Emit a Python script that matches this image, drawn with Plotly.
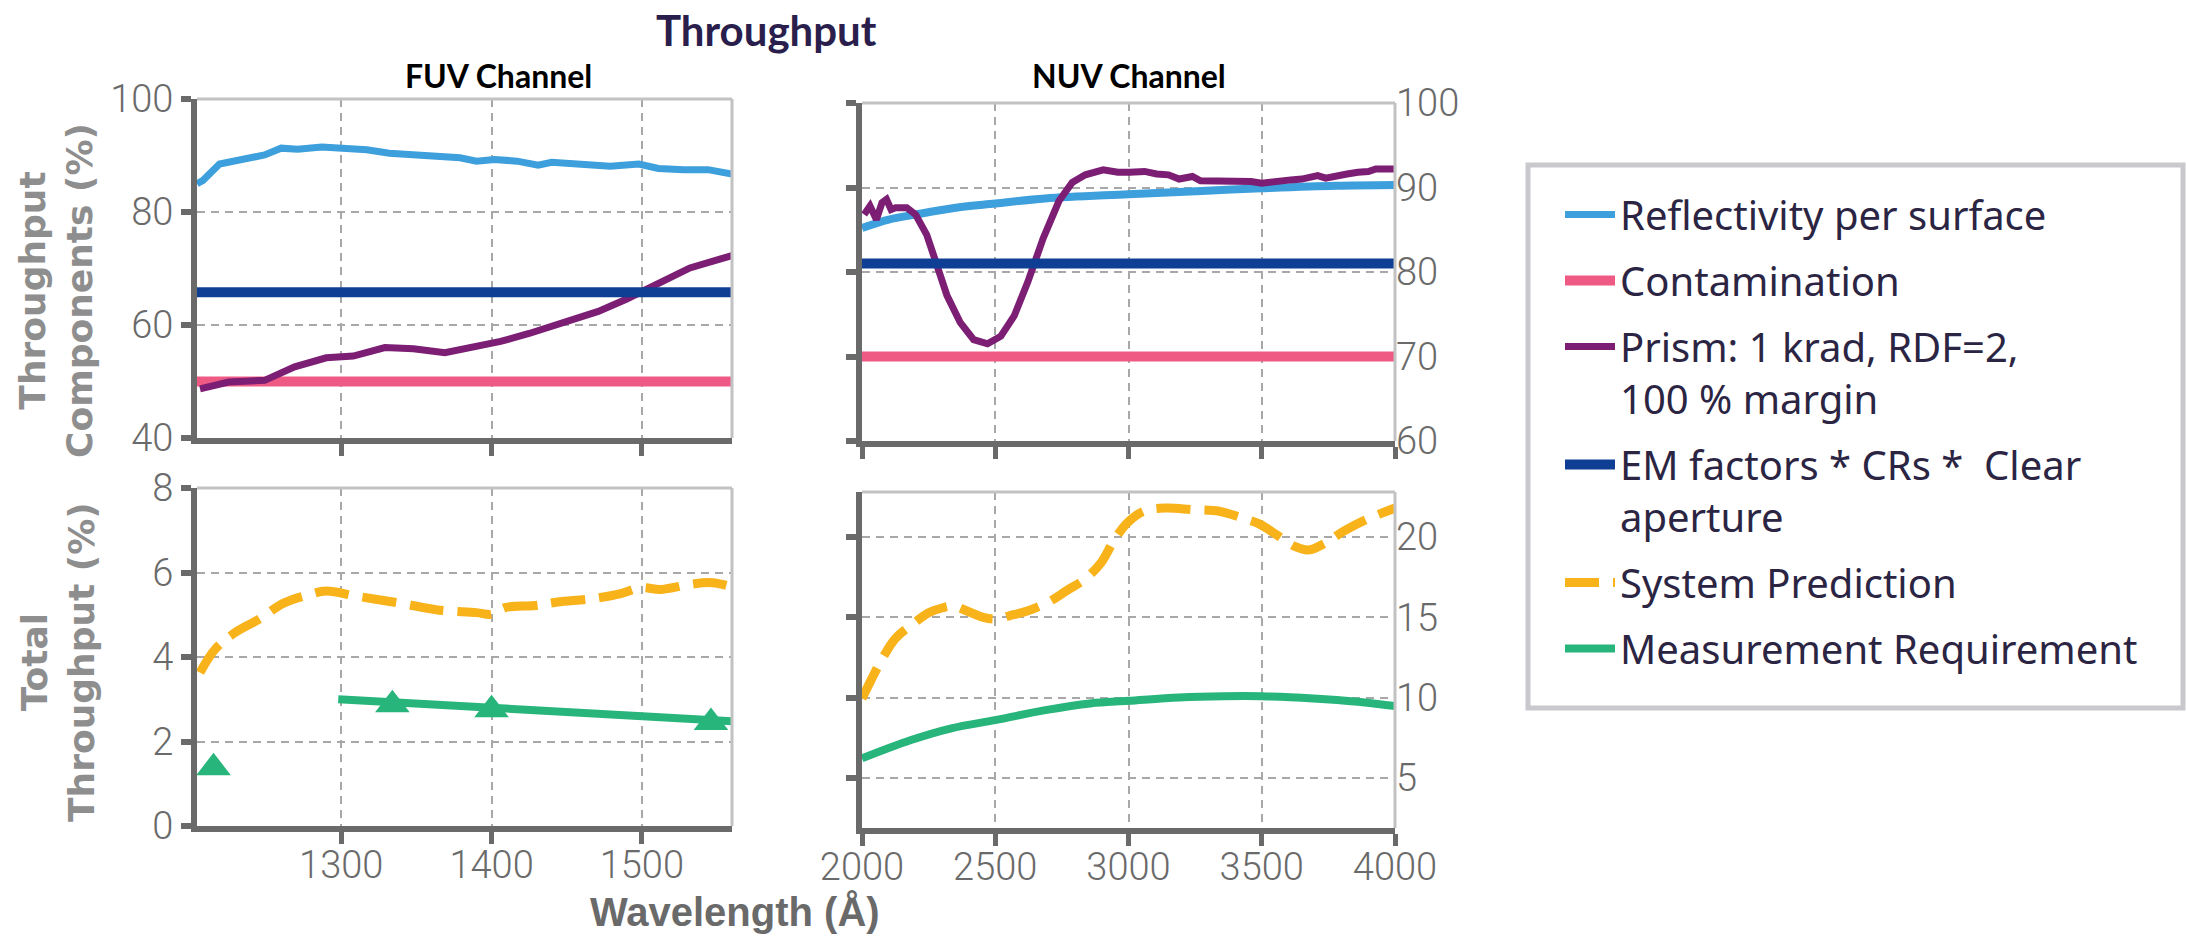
import plotly.graph_objects as go

W, H = 2186, 941

# ---------------- data ----------------
# FUV channel, component throughputs (%)
fuv_refl_x = [1204, 1208, 1219, 1233, 1249, 1260, 1271, 1287, 1302, 1317, 1332, 1355, 1379,
              1390, 1402, 1417, 1431, 1440, 1456, 1479, 1498, 1511, 1528, 1544, 1560]
fuv_refl_y = [85.0, 85.6, 88.5, 89.3, 90.1, 91.3, 91.1, 91.5, 91.4, 91.0, 90.4, 90.1, 89.6,
              89.0, 89.3, 89.0, 88.3, 88.8, 88.5, 88.1, 88.5, 87.7, 87.5, 87.5, 86.7]
fuv_flat_x = [1204, 1560]
fuv_contam_y = [50, 50]
fuv_em_y = [65.8, 65.8]
fuv_prism_x = [1206, 1225, 1249, 1269, 1290, 1308, 1329, 1348, 1369, 1390, 1406, 1425,
               1448, 1471, 1490, 1509, 1532, 1560]
fuv_prism_y = [48.7, 49.9, 50.2, 52.6, 54.2, 54.5, 56.0, 55.8, 55.1, 56.1, 57.1, 58.5,
               60.4, 62.4, 64.6, 67.1, 70.1, 72.3]

# FUV channel, total throughput (%)
fuv_sys_x = [1206, 1216, 1229, 1245, 1262, 1279, 1290, 1310, 1340, 1363, 1390, 1400, 1409,
             1429, 1444, 1467, 1486, 1499, 1513, 1532, 1547, 1560]
fuv_sys_y = [3.63, 4.18, 4.57, 4.89, 5.28, 5.48, 5.56, 5.44, 5.27, 5.12, 5.05, 5.01, 5.17,
             5.22, 5.30, 5.38, 5.50, 5.64, 5.60, 5.72, 5.76, 5.66]
fuv_req_x = [1298, 1400, 1500, 1560]
fuv_req_y = [3.0, 2.8, 2.6, 2.48]
fuv_req_pts_x = [1215, 1334, 1400, 1546]
fuv_req_pts_y = [1.38, 2.87, 2.75, 2.45]

# NUV channel, component throughputs (%)
nuv_refl_x = [2000, 2100, 2201, 2352, 2500, 2687, 3000, 3274, 3500, 3777, 4000]
nuv_refl_y = [85.2, 86.2, 86.8, 87.6, 88.1, 88.7, 89.2, 89.6, 89.9, 90.2, 90.3]
nuv_flat_x = [2000, 4000]
nuv_contam_y = [70, 70]
nuv_em_y = [81.0, 81.0]
nuv_prism_x = [2008, 2030, 2054, 2075, 2092, 2109, 2126, 2168, 2201, 2243, 2277, 2319,
               2369, 2419, 2471, 2521, 2571, 2622, 2680, 2739, 2789, 2838, 2905, 2960,
               3005, 3060, 3106, 3150, 3190, 3240, 3270, 3307, 3360, 3408, 3460, 3500,
               3560, 3609, 3650, 3710, 3740, 3777, 3820, 3861, 3900, 3928, 3970, 4000]
nuv_prism_y = [86.8, 87.8, 86.2, 88.2, 88.6, 87.4, 87.6, 87.6, 86.8, 84.4, 81.2, 77.2,
               74.0, 72.0, 71.5, 72.4, 74.8, 78.8, 84.0, 88.4, 90.6, 91.5, 92.1, 91.8,
               91.8, 91.9, 91.6, 91.5, 91.0, 91.3, 90.8, 90.8, 90.6, 90.6, 90.7, 90.5,
               90.8, 90.9, 91.0, 91.4, 91.1, 91.4, 91.6, 91.8, 91.9, 92.2, 92.2, 92.2]

# NUV channel, total throughput (%)
nuv_sys_x = [2000, 2034, 2075, 2126, 2184, 2252, 2303, 2344, 2394, 2455, 2503, 2553, 2620,
             2704, 2771, 2838, 2897, 2946, 2997, 3056, 3139, 3240, 3340, 3424, 3492, 3559,
             3626, 3677, 3735, 3811, 3894, 4000]
nuv_sys_y = [9.96, 11.1, 12.4, 13.7, 14.5, 15.3, 15.6, 15.7, 15.4, 15.0, 14.9, 15.1, 15.4,
             16.0, 16.7, 17.4, 18.4, 19.8, 20.9, 21.6, 21.8, 21.7, 21.6, 21.2, 20.8, 20.1,
             19.4, 19.2, 19.6, 20.4, 21.1, 21.8]
nuv_req_x = [2000, 2184, 2335, 2500, 2688, 2856, 3000, 3190, 3357, 3500, 3693, 3861, 4000]
nuv_req_y = [6.23, 7.37, 8.1, 8.61, 9.23, 9.65, 9.81, 10.02, 10.1, 10.1, 9.96, 9.75, 9.48]

# axis ticks / labels
fuv_xticks = [1300, 1400, 1500]
nuv_xticks = [2000, 2500, 3000, 3500, 4000]
top_fuv_yticks = [40, 60, 80, 100]
top_nuv_yticks = [60, 70, 80, 90, 100]
bot_fuv_yticks = [0, 2, 4, 6, 8]
bot_nuv_yticks = [5, 10, 15, 20]

names = ["Reflectivity per surface", "Contamination", "Prism: 1 krad, RDF=2,<br>100 % margin",
         "EM factors * CRs *  Clear<br>aperture", "System Prediction", "Measurement Requirement"]

# ---------------- styling ----------------
C_REFL = "#3d9fdc"
C_CONT = "#ef5a85"
C_PRISM = "#7c1e74"
C_EM = "#0f3f95"
C_SYS = "#f8b21a"
C_REQ = "#27b57b"
DARK = "#6a6a6a"
LIGHT = "#c2c2c2"
GRID = "#a8a8a8"
TICKFONT = dict(family="Roboto, Liberation Sans, sans-serif", size=38, color="#6a6a6a", weight=300)


def px_x(p):
    return p / W


def px_y(p):
    return 1 - p / H


fig = go.Figure()


def add(x, y, name, color, width, xa, ya, group, show, dash=None, shape="linear"):
    fig.add_trace(go.Scatter(
        x=x, y=y, mode="lines", name=name, legendgroup=group, showlegend=show,
        line=dict(color=color, width=width, dash=dash, shape=shape),
        xaxis=xa, yaxis=ya, hoverinfo="skip"))


# Component throughput panels
add(fuv_refl_x, fuv_refl_y, names[0], C_REFL, 7, "x", "y", "g1", True)
add(nuv_refl_x, nuv_refl_y, names[0], C_REFL, 8, "x3", "y3", "g1", False, shape="spline")
add(fuv_flat_x, fuv_contam_y, names[1], C_CONT, 10, "x", "y", "g2", True)
add(nuv_flat_x, nuv_contam_y, names[1], C_CONT, 10, "x3", "y3", "g2", False)
add(fuv_prism_x, fuv_prism_y, names[2], C_PRISM, 7, "x", "y", "g3", True)
add(nuv_prism_x, nuv_prism_y, names[2], C_PRISM, 7, "x3", "y3", "g3", False)
add(fuv_flat_x, fuv_em_y, names[3], C_EM, 10, "x", "y", "g4", True)
add(nuv_flat_x, nuv_em_y, names[3], C_EM, 10, "x3", "y3", "g4", False)

# Total throughput panels
SYS_DASH = "34px,14px"
add(fuv_sys_x, fuv_sys_y, names[4], C_SYS, 9, "x2", "y2", "g5", True, dash=SYS_DASH, shape="spline")
add(nuv_sys_x, nuv_sys_y, names[4], C_SYS, 9, "x4", "y4", "g5", False, dash=SYS_DASH, shape="spline")
add(fuv_req_x, fuv_req_y, names[5], C_REQ, 8, "x2", "y2", "g6", True)
add(nuv_req_x, nuv_req_y, names[5], C_REQ, 8, "x4", "y4", "g6", False, shape="spline")
fig.add_trace(go.Scatter(x=fuv_req_pts_x, y=fuv_req_pts_y, mode="markers", showlegend=False,
                         legendgroup="g6", marker=dict(symbol="triangle-up", size=30, color=C_REQ),
                         xaxis="x2", yaxis="y2", hoverinfo="skip"))
# invisible anchors for the tick-only left axes of the NUV panels
fig.add_trace(go.Scatter(x=[3000], y=[80], mode="markers", marker=dict(opacity=0), showlegend=False,
                         xaxis="x3", yaxis="y5", hoverinfo="skip"))
fig.add_trace(go.Scatter(x=[3000], y=[10], mode="markers", marker=dict(opacity=0), showlegend=False,
                         xaxis="x4", yaxis="y6", hoverinfo="skip"))

# geometry in pixels
FUV_X = (197, 732)
NUV_X = (862, 1395)
FUV_TOP = (99, 438)
FUV_BOT = (488, 826)
NUV_TOP = (103, 441)
NUV_BOT = (492, 828)


def xdom(a):
    return [px_x(a[0]), px_x(a[1])]


def ydom(a):
    return [px_y(a[1]), px_y(a[0])]


base_x = dict(showline=True, linecolor=DARK, linewidth=6, ticks="outside", ticklen=12,
              tickwidth=5, tickcolor=DARK, showgrid=True, gridcolor=GRID, gridwidth=2,
              griddash="8px,6px", zeroline=False, tickfont=TICKFONT, fixedrange=True,
              automargin=False, ticklabelstandoff=-12)
base_y = dict(showline=True, linecolor=DARK, linewidth=6, ticks="outside", ticklen=10,
              tickwidth=6, tickcolor=DARK, showgrid=True, gridcolor=GRID, gridwidth=2,
              griddash="8px,6px", zeroline=False, tickfont=TICKFONT, fixedrange=True,
              automargin=False)

fig.update_layout(
    xaxis=dict(base_x, domain=xdom(FUV_X), anchor="y", range=[1204, 1560],
               tickvals=fuv_xticks, showticklabels=False),
    yaxis=dict(base_y, domain=ydom(FUV_TOP), anchor="x", range=[40, 100],
               tickvals=top_fuv_yticks),
    xaxis2=dict(base_x, domain=xdom(FUV_X), anchor="y2", range=[1204, 1560],
                tickvals=fuv_xticks),
    yaxis2=dict(base_y, domain=ydom(FUV_BOT), anchor="x2", range=[0, 8],
                tickvals=bot_fuv_yticks),
    xaxis3=dict(base_x, domain=xdom(NUV_X), anchor="y3", range=[2000, 4000],
                tickvals=nuv_xticks, showticklabels=False),
    yaxis3=dict(base_y, domain=ydom(NUV_TOP), anchor="x3", range=[60, 100],
                tickvals=top_nuv_yticks, side="right", showline=False, ticks=""),
    xaxis4=dict(base_x, domain=xdom(NUV_X), anchor="y4", range=[2000, 4000],
                tickvals=nuv_xticks),
    yaxis4=dict(base_y, domain=ydom(NUV_BOT), anchor="x4", range=[1.9, 22.8],
                tickvals=bot_nuv_yticks, side="right", showline=False, ticks=""),
    yaxis5=dict(base_y, overlaying="y3", anchor="x3", side="left", range=[60, 100],
                tickvals=top_nuv_yticks, showticklabels=False, showgrid=False),
    yaxis6=dict(base_y, overlaying="y4", anchor="x4", side="left", range=[1.9, 22.8],
                tickvals=bot_nuv_yticks, showticklabels=False, showgrid=False),
)

# light top / right frame lines
shapes = []
for xa, ya in [("x", "y"), ("x2", "y2"), ("x3", "y3"), ("x4", "y4")]:
    shapes.append(dict(type="line", xref=f"{xa} domain", yref=f"{ya} domain", x0=0, x1=1, y0=1, y1=1,
                       line=dict(color=LIGHT, width=3), layer="above"))
    shapes.append(dict(type="line", xref=f"{xa} domain", yref=f"{ya} domain", x0=1, x1=1, y0=0, y1=1,
                       line=dict(color=LIGHT, width=3), layer="above"))
# legend frame
shapes.append(dict(type="rect", xref="paper", yref="paper", x0=px_x(1528), x1=px_x(2183),
                   y0=px_y(708), y1=px_y(165), line=dict(color="#c9c9cd", width=5), layer="above"))


def note(text, xp, yp, font, angle=0):
    return dict(text=text, x=px_x(xp), y=px_y(yp), xref="paper", yref="paper", showarrow=False,
                xanchor="center", yanchor="middle", textangle=angle, font=font)


ann = [
    note("<b>Throughput</b>", 766, 30, dict(family="Lato, sans-serif", size=42, color="#2a1e4c")),
    note("<b>FUV Channel</b>", 498, 75, dict(family="Lato, sans-serif", size=32, color="#000000")),
    note("<b>NUV Channel</b>", 1129, 75, dict(family="Lato, sans-serif", size=32, color="#000000")),
    note("<b>Throughput<br>Components (%)</b>", 56, 291,
         dict(family="DejaVu Sans, sans-serif", size=36, color="#8e8e8e"), -90),
    note("<b>Total<br>Throughput (%)</b>", 58, 662,
         dict(family="DejaVu Sans, sans-serif", size=36, color="#8e8e8e"), -90),
    note("<b>Wavelength (Å)</b>", 735, 912,
         dict(family="Liberation Sans Narrow, Arial Narrow, sans-serif", size=40, color="#6a6a6a")),
]

fig.update_layout(
    width=W, height=H, margin=dict(l=0, r=0, t=0, b=0, autoexpand=False),
    paper_bgcolor="white", plot_bgcolor="white",
    shapes=shapes, annotations=ann,
    legend=dict(x=px_x(1560), y=px_y(182), xanchor="left", yanchor="top",
                bgcolor="rgba(0,0,0,0)", borderwidth=0, itemwidth=50,
                tracegroupgap=11, valign="top", traceorder="grouped",
                font=dict(family="Noto Sans, sans-serif", size=40, color="#2b2543")),
    showlegend=True,
)

fig.write_html("out.html")
